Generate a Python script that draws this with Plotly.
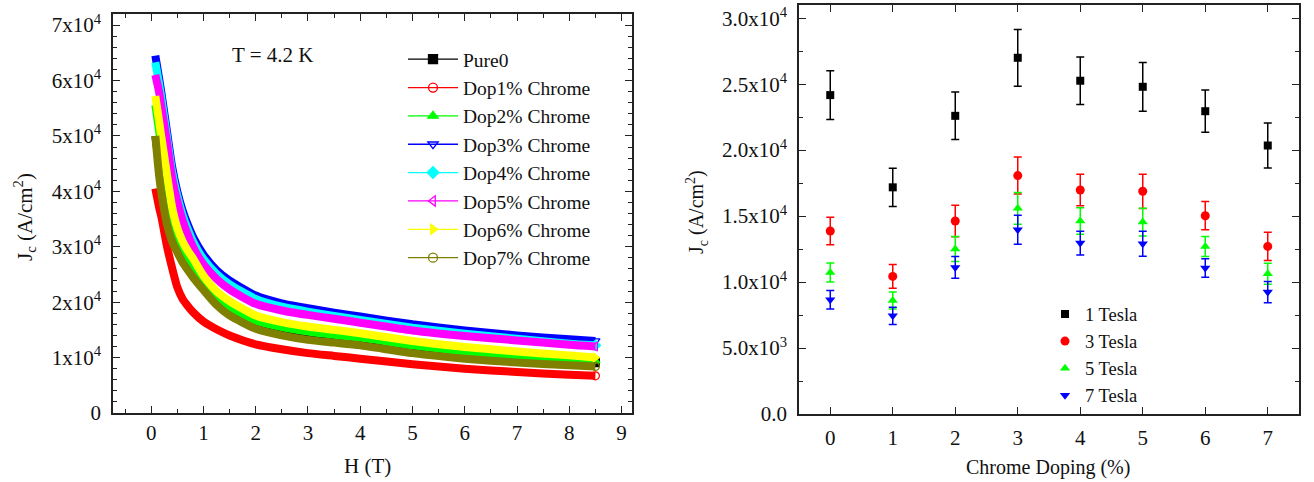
import plotly.graph_objects as go

# ---------------- Left panel data: Jc (A/cm^2) vs H (T) at 4.2 K ----------------
H = [0.08, 0.15, 0.2, 0.3, 0.4, 0.5, 0.6, 0.7, 0.8, 1.0, 1.25, 1.5, 2.0, 2.5, 3.0, 3.5, 4.0, 5.0, 6.0, 7.0, 8.0, 8.5]

pure0 = [50000, 45500, 44000, 39200, 34400, 31300, 29100, 27500, 26100, 23200, 20500, 18700, 16300, 15100, 14300, 13700, 13200, 11800, 10700, 9900, 9300, 9100]
dop1 = [40500, 37200, 35200, 30200, 26200, 22700, 20600, 19300, 18200, 16500, 15100, 14000, 12400, 11500, 10800, 10300, 9800, 8800, 8000, 7400, 6900, 6700]
dop2 = [55600, 51000, 47800, 41200, 35600, 32000, 29700, 28000, 26600, 23700, 21000, 19200, 16700, 15500, 14700, 14100, 13600, 12200, 11100, 10300, 9700, 9400]
dop3 = [64500, 60500, 57500, 51000, 44500, 40000, 36600, 34000, 31800, 28600, 25800, 23900, 21200, 19800, 18900, 18100, 17400, 16000, 14900, 14000, 13300, 13000]
dop4 = [63300, 59500, 56500, 50000, 43600, 39200, 35800, 33200, 31000, 27800, 25100, 23200, 20600, 19200, 18300, 17500, 16800, 15400, 14300, 13400, 12500, 12200]
dop5 = [61000, 58000, 55000, 49000, 42500, 38200, 34800, 32200, 30000, 26800, 24200, 22300, 19700, 18500, 17700, 17000, 16300, 14900, 13900, 13100, 12300, 12000]
dop6 = [57200, 52800, 49500, 43200, 37200, 33400, 31000, 29300, 27900, 24800, 22000, 20200, 17600, 16400, 15600, 15000, 14400, 13000, 11900, 11100, 10400, 10000]
dop7 = [50000, 43000, 39500, 34200, 31000, 29000, 27200, 25800, 24500, 22200, 19500, 17600, 15200, 14000, 13200, 12700, 12200, 10800, 9800, 9100, 8600, 8400]

left_names = ["Pure0", "Dop1% Chrome", "Dop2% Chrome", "Dop3% Chrome", "Dop4% Chrome",
              "Dop5% Chrome", "Dop6% Chrome", "Dop7% Chrome"]
left_series = [pure0, dop1, dop2, dop3, dop4, dop5, dop6, dop7]
left_colors = ["#000000", "#FF0000", "#00FF00", "#0000FF", "#00FFFF", "#FF00FF", "#FFFF00", "#808000"]
left_symbols = ["square", "circle-open", "triangle-up", "triangle-down-open", "diamond",
                "triangle-left-open", "triangle-right", "circle-open"]

left_yticks = [0, 10000, 20000, 30000, 40000, 50000, 60000, 70000]
left_yticktext = ["0"] + [f"{i}x10<sup>4</sup>" for i in range(1, 8)]
left_xticks = list(range(0, 10))

# ---------------- Right panel data: Jc vs Chrome doping ----------------
doping = [0, 1, 2, 3, 4, 5, 6, 7]
jc_1T = [24170, 17180, 22600, 27000, 25260, 24800, 22950, 20350]
err_1T = [1850, 1450, 1800, 2150, 1800, 1850, 1600, 1700]
jc_3T = [13870, 10430, 14630, 18070, 16980, 16880, 15030, 12700]
err_3T = [1050, 900, 1200, 1400, 1200, 1300, 1070, 1070]
jc_5T = [10730, 8600, 12500, 15590, 14630, 14550, 12700, 10630]
err_5T = [720, 650, 950, 1200, 1000, 1050, 760, 800]
jc_7T = [8660, 7440, 11110, 13970, 12960, 12900, 11060, 9240]
err_7T = [700, 660, 830, 1100, 900, 950, 700, 800]

right_names = ["1 Tesla", "3 Tesla", "5 Tesla", "7 Tesla"]
right_vals = [jc_1T, jc_3T, jc_5T, jc_7T]
right_errs = [err_1T, err_3T, err_5T, err_7T]
right_colors = ["#000000", "#FF0000", "#00FF00", "#0000FF"]
right_symbols = ["square", "circle", "triangle-up", "triangle-down"]

right_yticks = [0, 5000, 10000, 15000, 20000, 25000, 30000]
right_yticktext = ["0.0", "5.0x10<sup>3</sup>", "1.0x10<sup>4</sup>", "1.5x10<sup>4</sup>",
                   "2.0x10<sup>4</sup>", "2.5x10<sup>4</sup>", "3.0x10<sup>4</sup>"]

FONT = "Liberation Serif"
W, HGT = 1314, 482

fig = go.Figure()

# Left bands (dense measured points look like thick bands), each followed by its end marker
for name, ys, col, sym in zip(left_names, left_series, left_colors, left_symbols):
    fig.add_trace(go.Scatter(x=H, y=ys, mode="lines", line=dict(color=col, width=8, shape="spline", smoothing=0.6),
                             showlegend=False, hoverinfo="skip", xaxis="x", yaxis="y"))
    fig.add_trace(go.Scatter(x=[H[-1]], y=[ys[-1]], mode="markers",
                             marker=dict(symbol=sym, color=col, size=8, line=dict(color=col, width=1.2)),
                             showlegend=False, xaxis="x", yaxis="y"))
# legend entries (line + symbol)
for name, col, sym in zip(left_names, left_colors, left_symbols):
    fig.add_trace(go.Scatter(x=[None], y=[None], mode="lines+markers", name=name,
                             line=dict(color=col, width=1.3),
                             marker=dict(symbol=sym, color=col, size=9, line=dict(color=col, width=1.3)),
                             xaxis="x", yaxis="y", legend="legend"))

# Right panel
for name, ys, es, col, sym in zip(right_names, right_vals, right_errs, right_colors, right_symbols):
    fig.add_trace(go.Scatter(x=doping, y=ys, mode="markers", name=name,
                             marker=dict(symbol=sym, color=col, size=9 if sym != "square" else 8),
                             error_y=dict(type="data", array=es, color=col, thickness=1.5, width=4),
                             xaxis="x2", yaxis="y2", legend="legend2"))

axis_common = dict(showline=True, linecolor="#222222", linewidth=1.5, mirror="allticks",
                   ticks="inside", ticklen=7, tickwidth=1.3, tickcolor="#222222",
                   showgrid=False, zeroline=False, automargin=False,
                   tickfont=dict(family=FONT, size=21, color="#111111"))


def ann(text, x, y, size, angle=0):
    return dict(text=text, x=x / W, y=1 - y / HGT, xref="paper", yref="paper",
                xanchor="center", yanchor="middle", showarrow=False, textangle=angle,
                font=dict(family=FONT, size=size, color="#111111"))


fig.update_layout(
    template="none",
    width=W, height=HGT,
    margin=dict(l=0, r=0, t=0, b=0, autoexpand=False),
    paper_bgcolor="white", plot_bgcolor="white",
    font=dict(family=FONT, size=21, color="#111111"),
    xaxis=dict(**axis_common, domain=[113 / W, 632 / W], range=[-0.73, 9.2],
               tickvals=left_xticks, ticklabelstandoff=0,
               minor=dict(ticks="inside", dtick=0.5, tick0=0, ticklen=4, tickcolor="#222222", tickwidth=1.2),
               anchor="y"),
    yaxis=dict(**axis_common, domain=[1 - 413 / HGT, 1 - 14 / HGT], range=[0, 72000],
               tickvals=left_yticks, ticktext=left_yticktext, ticklabelstandoff=6,
               minor=dict(ticks="inside", dtick=2000, tick0=0, ticklen=4, tickcolor="#222222", tickwidth=1.2),
               anchor="x"),
    xaxis2=dict(**axis_common, domain=[799 / W, 1299 / W], range=[-0.5, 7.5],
                tickvals=doping, ticklabelstandoff=4, anchor="y2"),
    yaxis2=dict(**axis_common, domain=[1 - 414 / HGT, 1 - 5 / HGT], range=[0, 31000],
                tickvals=right_yticks, ticktext=right_yticktext, ticklabelstandoff=6,
                minor=dict(ticks="inside", dtick=2500, tick0=0, ticklen=4, tickcolor="#222222", tickwidth=1.2),
                anchor="x2"),
    legend=dict(x=403 / W, y=1 - 40 / HGT, xanchor="left", yanchor="top",
                bgcolor="rgba(0,0,0,0)", font=dict(family=FONT, size=19.5, color="#111111"),
                itemwidth=50, tracegroupgap=0),
    legend2=dict(x=1045 / W, y=1 - 295.5 / HGT, xanchor="left", yanchor="top",
                 bgcolor="rgba(0,0,0,0)", font=dict(family=FONT, size=18.5, color="#111111"),
                 tracegroupgap=0),
    annotations=[
        ann("T = 4.2 K", 272, 55, 21),
        ann("J<sub>c</sub> (A/cm<sup>2</sup>)", 25, 217, 21, -90),
        ann("H (T)", 367, 466, 21),
        ann("J<sub>c</sub> (A/cm<sup>2</sup>)", 697, 212, 20, -90),
        ann("Chrome Doping (%)", 1048, 467, 20),
    ],
)

fig.write_html("out.html", config={"displayModeBar": False},
               post_script="document.body.style.margin='0px';document.body.style.padding='0px';"
                           "document.body.style.overflow='hidden';")
